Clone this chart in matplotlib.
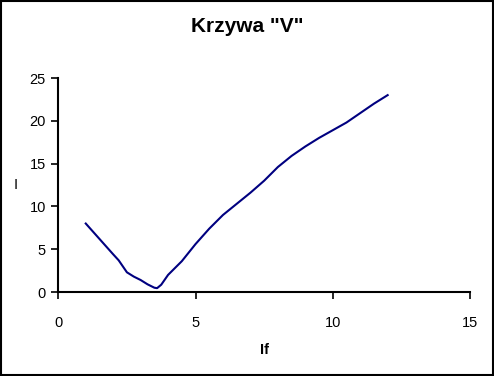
import matplotlib
matplotlib.use("Agg")
import matplotlib.pyplot as plt
from matplotlib.patches import Rectangle

plt.rcParams['font.family'] = ['Liberation Sans', 'DejaVu Sans']

title = 'Krzywa "V"'
x_label = "If"
y_label = "I"
x_vals = [1.0, 1.5, 2.0, 2.2, 2.5, 2.75, 3.0, 3.25, 3.5, 3.6, 3.75, 4.0, 4.5, 5.0, 5.5, 6.0,
          6.5, 7.0, 7.5, 8.0, 8.5, 9.0, 9.5, 10.0, 10.5, 11.0, 11.5, 12.0]
y_vals = [8.0, 6.2, 4.4, 3.7, 2.3, 1.8, 1.4, 0.9, 0.5, 0.45, 0.85, 2.0, 3.6, 5.6, 7.4, 9.0,
          10.3, 11.6, 13.0, 14.6, 15.9, 17.0, 18.0, 18.9, 19.8, 20.9, 22.0, 23.0]
x_ticks = [0, 5, 10, 15]
y_ticks = [0, 5, 10, 15, 20, 25]

fig = plt.figure(figsize=(4.94, 3.76), dpi=100)
ax = fig.add_axes([58.3 / 494, 1 - 292 / 376, (470 - 58.3) / 494, (292 - 78) / 376])
ax.plot(x_vals, y_vals, color="#000080", linewidth=1.5)
ax.set_xlim(0, 15)
ax.set_ylim(0, 25)
ax.set_xticks(x_ticks)
ax.set_yticks(y_ticks)
ax.tick_params(direction="out", length=5, width=1.2, labelsize=10.5, pad=12)
ax.tick_params(axis="y", pad=4)
for s in ["top", "right"]:
    ax.spines[s].set_visible(False)
for s in ["left", "bottom"]:
    ax.spines[s].set_linewidth(1.5)
ax.set_xlabel(x_label, fontsize=10.5, fontweight="bold", labelpad=10)
ax.set_ylabel(y_label, fontsize=10.5, rotation=0, labelpad=10, va="center")
fig.text(0.5, 1 - 27 / 376, title, ha="center", va="center", fontsize=15, fontweight="bold")
fig.patches.append(Rectangle((0.002, 0.003), 0.995, 0.994, transform=fig.transFigure,
                             fill=False, edgecolor="black", linewidth=1.5))
fig.savefig("out.png", dpi=100)
